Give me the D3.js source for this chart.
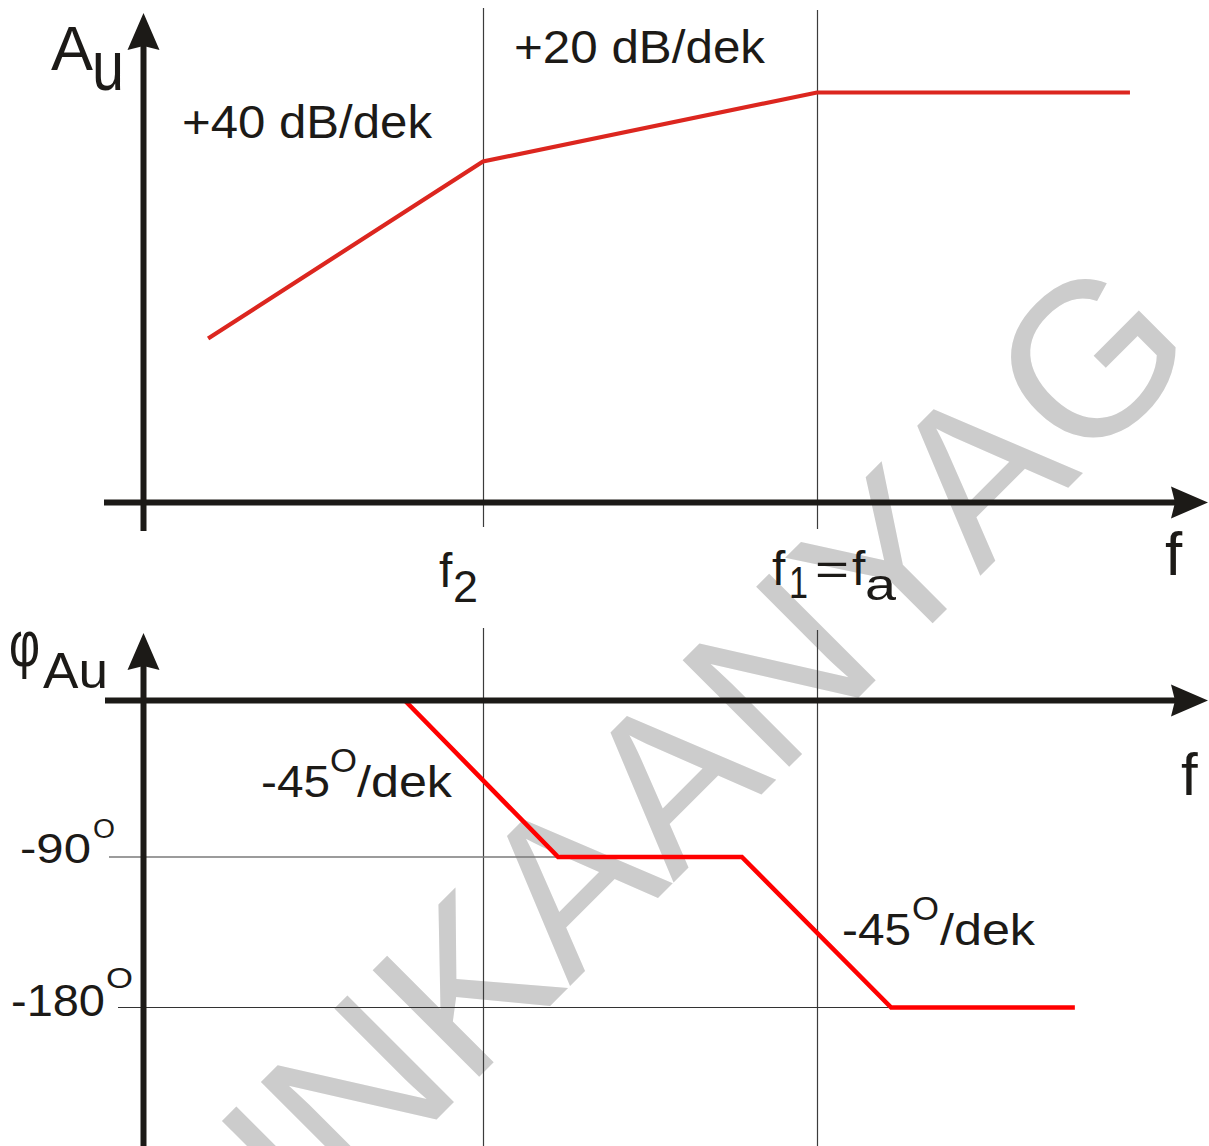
<!DOCTYPE html>
<html><head><meta charset="utf-8">
<script src="https://cdn.jsdelivr.net/npm/d3@7"></script>
<style>body{margin:0;background:#fff}svg{display:block}</style>
</head><body>
<svg id="c" width="1209" height="1146"></svg>
<script>
// ---- data (frequency in decades, f2 = 1, f1 = 2) ----
const cornerDecades = [1, 2];                       // f2, f1=fa
const gainDecades   = [0.177, 1, 2, 2.937];
const gainValues    = [32.8, 68.2, 82, 82];        // relative gain units
const phaseDecades  = [0.766, 1.225, 1.775, 2.222, 2.772];
const phaseValues   = [0, -90, -90, -180, -180];   // degrees
const phaseTicks    = [-90, -180];
const phaseTickLabels = ["-90", "-180"];
const gainSlopeLabels  = ["+40 dB/dek", "+20 dB/dek"];
const phaseSlopeLabels = ["-45", "-45"];
const watermarkText = "MUNKAANYAG";

const FONT = "'Liberation Sans', Arial, sans-serif";
const svg = d3.select("#c");
const x = d3.scaleLinear().domain([0, 3]).range([149, 1151]);
const yGain = d3.scaleLinear().domain([0, 100]).range([502.5, 2.5]);
const yPhase = d3.scaleLinear().domain([0, -90, -180]).range([700.5, 857, 1007.5]);
const AX = 143.5;
const INK = "#1c1a17";

// ---- watermark ----
const wm = svg.append("g");
const fsW = 219;
const tmp = wm.append("text").attr("font-family", FONT).attr("font-size", fsW).text("MUN");
const munW = tmp.node().getComputedTextLength();
tmp.remove();
const sK = -424 - (munW + 0.075 * fsW);
const base = 1556;
const ox = (base + sK * Math.SQRT2) / 2, oy = (base - sK * Math.SQRT2) / 2;
wm.append("text")
  .attr("transform", `translate(${ox},${oy}) rotate(-45)`)
  .attr("font-family", FONT).attr("font-size", fsW).attr("fill", "#cccccc")
  .text(watermarkText);

// ---- thin gridlines ----
const grid = svg.append("g").attr("fill", "none");
cornerDecades.forEach((d, i) => {
  const xx = Math.round(x(d)) + 0.5;
  grid.append("line").attr("x1", xx).attr("x2", xx)
    .attr("y1", i === 0 ? 8 : 10).attr("y2", i === 0 ? 527 : 529)
    .attr("stroke", "#3c3c3c").attr("stroke-width", 1.2);
  grid.append("line").attr("x1", xx).attr("x2", xx)
    .attr("y1", i === 0 ? 628 : 630).attr("y2", 1146)
    .attr("stroke", "#3c3c3c").attr("stroke-width", 1.2);
});
phaseTicks.forEach((p, i) => {
  const yy = yPhase(p);
  const endIdx = phaseValues.indexOf(p);
  grid.append("line").attr("x1", i === 0 ? 109 : 118)
    .attr("x2", x(phaseDecades[endIdx + (i === 0 ? 1 : 0)]))
    .attr("y1", yy).attr("y2", yy)
    .attr("stroke", i === 0 ? "#7a7a7a" : "#333").attr("stroke-width", i === 0 ? 1.6 : 1.2);
});

// ---- red curves ----
const gainLine = d3.line().x(d => x(d[0])).y(d => yGain(d[1]));
svg.append("path").datum(d3.zip(gainDecades, gainValues))
  .attr("d", gainLine).attr("fill", "none").attr("stroke", "#dc261f")
  .attr("stroke-width", 4.2).attr("stroke-linejoin", "miter");
const phaseLine = d3.line().x(d => x(d[0])).y(d => yPhase(d[1]));
svg.append("path").datum(d3.zip(phaseDecades, phaseValues))
  .attr("d", phaseLine).attr("fill", "none").attr("stroke", "#ff0000")
  .attr("stroke-width", 4.6).attr("stroke-linejoin", "miter");

// ---- axes ----
const axes = svg.append("g");
function arrowUp(xx, tipY) {
  return `M${xx},${tipY} L${xx + 16},${tipY + 37} L${xx},${tipY + 33} L${xx - 16},${tipY + 37} Z`;
}
function arrowRight(tipX, yy) {
  return `M${tipX},${yy} L${tipX - 37},${yy - 16} L${tipX - 33},${yy} L${tipX - 37},${yy + 16} Z`;
}
// top panel
axes.append("line").attr("x1", AX).attr("x2", AX).attr("y1", 40).attr("y2", 531)
  .attr("stroke", INK).attr("stroke-width", 6);
axes.append("path").attr("d", arrowUp(AX, 13)).attr("fill", INK);
axes.append("line").attr("x1", 104).attr("x2", 1178).attr("y1", yGain(0)).attr("y2", yGain(0))
  .attr("stroke", INK).attr("stroke-width", 6);
axes.append("path").attr("d", arrowRight(1208, yGain(0))).attr("fill", INK);
// bottom panel
axes.append("line").attr("x1", AX).attr("x2", AX).attr("y1", 660).attr("y2", 1146)
  .attr("stroke", INK).attr("stroke-width", 6);
axes.append("path").attr("d", arrowUp(AX, 633)).attr("fill", INK);
axes.append("line").attr("x1", 105).attr("x2", 1178).attr("y1", yPhase(0)).attr("y2", yPhase(0))
  .attr("stroke", INK).attr("stroke-width", 6);
axes.append("path").attr("d", arrowRight(1208, yPhase(0))).attr("fill", INK);

// ---- text ----
const T = svg.append("g").attr("font-family", FONT).attr("fill", INK);
function txt(s, xx, yy, size, len) {
  const t = T.append("text").attr("x", xx).attr("y", yy).attr("font-size", size).text(s);
  if (len) t.attr("textLength", len).attr("lengthAdjust", "spacingAndGlyphs");
  return t;
}
// axis titles
txt("A", 51, 70, 63, 42);
txt("u", 92, 90, 70, 32);
txt("φ", 9, 666, 64, 31);
txt("Au", 43, 688, 50, 65);
txt("f", 1165, 575, 62);
txt("f", 1181, 795, 60);
// frequency labels
txt("f", 439, 587, 48);
txt("2", 453, 602, 44, 25);
txt("f", 772, 585, 48);
txt("1", 789, 598, 44, 19);
txt("=", 815, 585, 44, 34);
txt("f", 852, 585, 48);
txt("a", 865, 600, 44, 31);
// slope labels (gain)
txt(gainSlopeLabels[0], 182, 138, 46, 250);
txt(gainSlopeLabels[1], 514, 63, 46, 251);
// phase tick labels
txt(phaseTickLabels[0], 20, yPhase(phaseTicks[0]) + 6, 42, 71);
txt("O", 93, 838, 27, 22);
txt(phaseTickLabels[1], 11, yPhase(phaseTicks[1]) + 8, 44, 94);
txt("O", 106, 988, 30, 27);
// phase slope labels
txt(phaseSlopeLabels[0], 261, 797, 44, 69);
txt("O", 330, 772, 34, 27);
txt("/dek", 357, 797, 44, 95);
txt(phaseSlopeLabels[1], 842, 945, 44, 69);
txt("O", 912, 920, 34, 27);
txt("/dek", 940, 945, 44, 95);
</script>
</body></html>
